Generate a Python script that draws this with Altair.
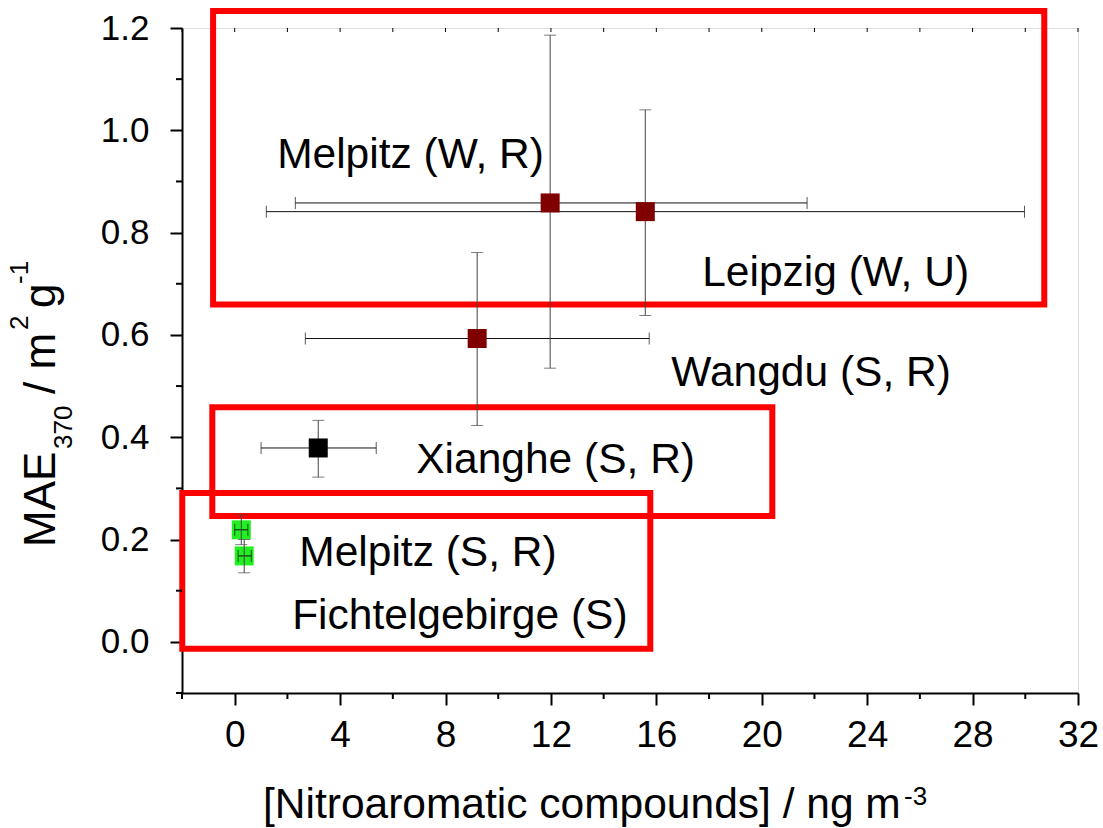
import altair as alt
import pandas as pd

# ---- data ----
site = ["Melpitz (W, R)", "Leipzig (W, U)", "Wangdu (S, R)", "Xianghe (S, R)",
        "Melpitz (S, R)", "Fichtelgebirge (S)"]
nitro = [11.97, 15.58, 9.20, 3.17, 0.25, 0.36]
mae = [0.858, 0.841, 0.593, 0.379, 0.219, 0.168]
nitro_lo = [2.30, 1.20, 2.68, 1.00, 0.00, 0.13]
nitro_hi = [21.72, 29.97, 15.73, 5.37, 0.50, 0.63]
mae_lo = [0.535, 0.638, 0.423, 0.322, 0.190, 0.135]
mae_hi = [1.186, 1.040, 0.761, 0.433, 0.248, 0.200]
group = ["wine", "wine", "wine", "black", "green", "green"]

label_text = ["Melpitz (W, R)", "Leipzig (W, U)", "Wangdu (S, R)", "Xianghe (S, R)",
              "Melpitz (S, R)", "Fichtelgebirge (S)"]
label_x = [1.61, 17.74, 16.57, 6.89, 2.45, 2.18]
label_y = [0.927, 0.695, 0.4995, 0.330, 0.148, 0.0254]

box_x1 = [-0.82, -0.85, -1.99]
box_x2 = [30.72, 20.40, 15.77]
box_y1 = [0.6595, 0.246, -0.0137]
box_y2 = [1.233, 0.4585, 0.291]

x_major = [0, 4, 8, 12, 16, 20, 24, 28, 32]
x_minor = [-2, 2, 6, 10, 14, 18, 22, 26, 30]
x_top = [-2, 0, 2, 4, 6, 8, 10, 12, 14, 16, 18, 20, 22, 24, 26, 28, 30, 32]
y_major = [0.0, 0.2, 0.4, 0.6, 0.8, 1.0, 1.2]
y_minor = [-0.1, 0.1, 0.3, 0.5, 0.7, 0.9, 1.1]

pts = pd.DataFrame({"site": site, "x": nitro, "y": mae, "xlo": nitro_lo, "xhi": nitro_hi,
                    "ylo": mae_lo, "yhi": mae_hi, "g": group})
labels = pd.DataFrame({"t": label_text, "x": label_x, "y": label_y})
boxes = pd.DataFrame({"x1": box_x1, "x2": box_x2, "y1": box_y1, "y2": box_y2})

FONT = "Liberation Sans, Arial, sans-serif"
W, H = 896, 665

xs = alt.Scale(domain=[-2, 32], nice=False, zero=False)
ys = alt.Scale(domain=[-0.1, 1.2], nice=False, zero=False)
xaxis = alt.Axis(values=x_major, title=None, grid=False, labelFontSize=37, labelFont=FONT,
                 labelColor="black", tickSize=12, tickWidth=2, tickColor="black",
                 domainColor="black", domainWidth=2, labelPadding=12,
                 labelFlush=False, labelOverlap=False)
yaxis = alt.Axis(values=y_major, format=".1f", title=None, grid=False, labelFontSize=35,
                 labelFont=FONT, labelColor="black", tickSize=12, tickWidth=2,
                 tickColor="black", domainColor="black", domainWidth=2, labelPadding=21,
                 labelFlush=False, labelOverlap=False)

X = lambda f: alt.X(f, type="quantitative", scale=xs, axis=xaxis)
Y = lambda f: alt.Y(f, type="quantitative", scale=ys, axis=yaxis)

color_enc = alt.Color("g:N", scale=alt.Scale(domain=["wine", "black", "green"],
                                             range=["#800000", "#000000", "#22ee22"]),
                      legend=None)

box_layer = alt.Chart(boxes).mark_rect(filled=False, stroke="#ff0000", strokeWidth=6).encode(
    x=X("x1"), x2="x2", y=Y("y1"), y2="y2")

sq_green = alt.Chart(pts).transform_filter(alt.datum.g == "green").mark_square(
    size=361, opacity=1, strokeWidth=0).encode(x=X("x"), y=Y("y"), color=color_enc)

xerr = alt.Chart(pts).mark_rule(color="#111111", strokeWidth=1).encode(
    x=X("xlo"), x2="xhi", y=Y("y"))
xcap_lo = alt.Chart(pts).mark_tick(orient="vertical", size=12, thickness=1, color="#111111").encode(
    x=X("xlo"), y=Y("y"))
xcap_hi = alt.Chart(pts).mark_tick(orient="vertical", size=12, thickness=1, color="#111111").encode(
    x=X("xhi"), y=Y("y"))
yerr = alt.Chart(pts).mark_rule(color="#444444", strokeWidth=1).encode(
    x=X("x"), y=Y("ylo"), y2="yhi")
ycap_lo = alt.Chart(pts).mark_tick(orient="horizontal", size=12, thickness=1, color="#444444").encode(
    x=X("x"), y=Y("ylo"))
ycap_hi = alt.Chart(pts).mark_tick(orient="horizontal", size=12, thickness=1, color="#444444").encode(
    x=X("x"), y=Y("yhi"))

sq_other = alt.Chart(pts).transform_filter(alt.datum.g != "green").mark_square(
    size=361, opacity=1, strokeWidth=0).encode(x=X("x"), y=Y("y"), color=color_enc)

text_layer = alt.Chart(labels).mark_text(font=FONT, fontSize=42.5, align="left",
                                         baseline="alphabetic", color="black").encode(
    x=X("x"), y=Y("y"), text="t:N")

# minor ticks
xminor = alt.Chart(pd.DataFrame({"v": x_minor})).mark_rule(color="black", strokeWidth=2).encode(
    x=X("v"), y=alt.value(H), y2=alt.value(H + 6))
xtop = alt.Chart(pd.DataFrame({"v": x_top})).mark_rule(color="black", strokeWidth=1).encode(
    x=X("v"), y=alt.value(0), y2=alt.value(4))
yminor = alt.Chart(pd.DataFrame({"v": y_minor})).mark_rule(color="black", strokeWidth=2).encode(
    y=Y("v"), x=alt.value(0), x2=alt.value(-6))

one = pd.DataFrame({"a": [0]})


def txt(s, x, y, size, angle=0):
    kw = dict(font=FONT, fontSize=size, align="left", baseline="alphabetic", color="black")
    if angle:
        kw["angle"] = angle
    return alt.Chart(one).mark_text(**kw).encode(
        x=alt.value(x), y=alt.value(y), text=alt.value(s))


titles = [
    txt("MAE", -127, 519, 44, 270),
    txt("370", -110, 421, 26, 270),
    txt("/ m", -127, 366, 44, 270),
    txt("2", -154, 302, 26, 270),
    txt("g", -127, 280, 44, 270),
    txt("-1", -154, 256, 26, 270),
    txt("[Nitroaromatic compounds] / ng m", 81, 790, 42.5),
    txt("-3", 722, 777, 26),
]

chart = alt.layer(
    box_layer, sq_green, xerr, xcap_lo, xcap_hi, yerr, ycap_lo, ycap_hi, sq_other, text_layer,
    xminor, xtop, yminor, *titles
).properties(
    width=W, height=H,
    autosize=alt.AutoSizeParams(type="none"),
    padding={"left": 182, "top": 28, "right": 1103 - 182 - W, "bottom": 828 - 28 - H},
).configure_view(stroke="black", strokeWidth=2).configure(background="white")

chart.save("out.html", embed_options={"renderer": "svg", "actions": False})
